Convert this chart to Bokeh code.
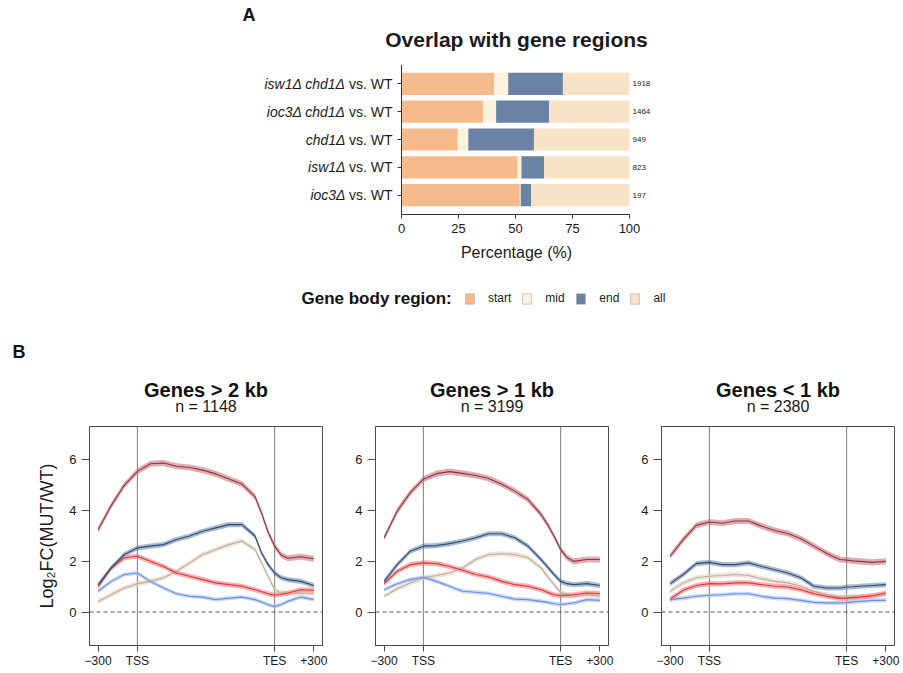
from bokeh.plotting import figure
from bokeh.models import (FactorRange, Range1d, FixedTicker, Legend, LegendItem,
                          Title, Span, ColumnDataSource, Label)
from bokeh.layouts import column, row
from bokeh.embed import file_html
from bokeh.resources import INLINE
from bokeh.core.properties import value

FONT = "Liberation Sans"

# ---------------- Panel A data ----------------
strains = ["isw1Δ chd1Δ", "ioc3Δ chd1Δ", "chd1Δ", "isw1Δ", "ioc3Δ"]
regions = ["start", "mid", "end", "all"]
pct_start = [40.7, 35.8, 24.7, 50.9, 51.9]
pct_mid = [6.1, 5.7, 4.6, 1.7, 0.4]
pct_end = [24.0, 23.3, 28.8, 9.9, 4.6]
pct_all = [29.2, 35.2, 41.9, 37.5, 43.1]
n_regions = [1918, 1464, 949, 823, 197]
pct_ticks = [0, 25, 50, 75, 100]
region_colors = ["#F5BB8C", "#FCF2DD", "#6A83A4", "#F9E3C7"]

# ---------------- Panel B data ----------------
profile_x = [-300, -200, -100, 0, 100, 200, 300, 400, 500, 600, 700, 800,
             900, 950, 1000, 1050, 1100, 1150, 1250, 1350]
tick_pos = [-300, 0, 1050, 1350]
tick_labels = ["\u2212300", "TSS", "TES", "+300"]
y_ticks = [0, 2, 4, 6]

series_names = ["isw1Δ chd1Δ", "ioc3Δ chd1Δ", "chd1Δ", "isw1Δ", "ioc3Δ"]
series_se = [0.12, 0.10, 0.10, 0.10, 0.08]

gt2kb_isw1_chd1 = [3.25, 4.2, 5.0, 5.55, 5.85, 5.88, 5.75, 5.7, 5.6, 5.45, 5.25, 5.05, 4.55, 3.9, 3.15, 2.6, 2.25, 2.12, 2.18, 2.1]
gt2kb_ioc3_chd1 = [1.08, 1.74, 2.27, 2.53, 2.6, 2.66, 2.86, 3.0, 3.19, 3.32, 3.45, 3.45, 3.0, 2.33, 1.87, 1.54, 1.35, 1.28, 1.21, 1.05]
gt2kb_chd1 = [0.42, 0.68, 0.95, 1.12, 1.21, 1.35, 1.61, 1.94, 2.27, 2.47, 2.66, 2.8, 2.47, 1.94, 1.41, 0.88, 0.75, 0.72, 0.75, 0.72]
gt2kb_isw1 = [1.01, 1.74, 2.14, 2.2, 2.0, 1.8, 1.54, 1.41, 1.28, 1.15, 1.08, 1.02, 0.88, 0.8, 0.72, 0.66, 0.7, 0.75, 0.88, 0.86]
gt2kb_ioc3 = [0.82, 1.21, 1.48, 1.54, 1.21, 0.95, 0.72, 0.62, 0.59, 0.49, 0.55, 0.59, 0.49, 0.4, 0.29, 0.22, 0.3, 0.42, 0.59, 0.49]

gt1kb_isw1_chd1 = [2.93, 3.98, 4.71, 5.24, 5.46, 5.54, 5.47, 5.39, 5.27, 5.04, 4.77, 4.44, 3.85, 3.45, 2.99, 2.47, 2.14, 2.0, 2.07, 2.07]
gt1kb_ioc3_chd1 = [1.21, 1.87, 2.4, 2.6, 2.62, 2.7, 2.8, 2.93, 3.09, 3.09, 2.93, 2.6, 2.07, 1.78, 1.48, 1.21, 1.12, 1.08, 1.12, 1.05]
gt1kb_chd1 = [0.62, 0.92, 1.15, 1.35, 1.44, 1.54, 1.74, 2.07, 2.27, 2.3, 2.27, 2.14, 1.74, 1.4, 1.08, 0.78, 0.68, 0.62, 0.68, 0.62]
gt1kb_isw1 = [1.12, 1.61, 1.87, 1.94, 1.91, 1.8, 1.65, 1.48, 1.38, 1.21, 1.08, 1.02, 0.88, 0.78, 0.68, 0.64, 0.66, 0.68, 0.75, 0.73]
gt1kb_ioc3 = [0.88, 1.12, 1.28, 1.37, 1.21, 1.02, 0.82, 0.78, 0.73, 0.62, 0.51, 0.49, 0.42, 0.38, 0.33, 0.3, 0.33, 0.36, 0.49, 0.46]

lt1kb_isw1_chd1 = [2.2, 2.86, 3.42, 3.55, 3.5, 3.59, 3.59, 3.39, 3.22, 3.1, 2.89, 2.6, 2.31, 2.18, 2.07, 2.05, 2.02, 2.0, 1.96, 2.0]
lt1kb_ioc3_chd1 = [1.12, 1.48, 1.91, 1.96, 1.87, 1.87, 1.94, 1.8, 1.67, 1.54, 1.35, 1.02, 0.95, 0.95, 0.95, 0.99, 1.0, 1.02, 1.05, 1.08]
lt1kb_chd1 = [0.82, 1.15, 1.35, 1.41, 1.44, 1.48, 1.44, 1.31, 1.21, 1.15, 1.02, 0.82, 0.68, 0.62, 0.59, 0.59, 0.6, 0.6, 0.64, 0.68]
lt1kb_isw1 = [0.51, 0.86, 1.05, 1.12, 1.11, 1.15, 1.15, 1.08, 1.02, 0.99, 0.88, 0.72, 0.62, 0.58, 0.54, 0.55, 0.57, 0.59, 0.64, 0.75]
lt1kb_ioc3 = [0.49, 0.55, 0.62, 0.66, 0.68, 0.72, 0.72, 0.62, 0.55, 0.53, 0.46, 0.38, 0.36, 0.36, 0.36, 0.37, 0.4, 0.42, 0.46, 0.46]

panel_titles = ["Genes > 2 kb", "Genes > 1 kb", "Genes < 1 kb"]
panel_n = [1148, 3199, 2380]
panel_series = [
    [gt2kb_isw1_chd1, gt2kb_ioc3_chd1, gt2kb_chd1, gt2kb_isw1, gt2kb_ioc3],
    [gt1kb_isw1_chd1, gt1kb_ioc3_chd1, gt1kb_chd1, gt1kb_isw1, gt1kb_ioc3],
    [lt1kb_isw1_chd1, lt1kb_ioc3_chd1, lt1kb_chd1, lt1kb_isw1, lt1kb_ioc3],
]
line_colors = ["#93333D", "#2E4B6E", "#C2AB96", "#E0363C", "#6C8FE0"]
band_colors = ["#C9777D", "#6F8DB3", "#E3D3C4", "#F27E80", "#A8C0F3"]
draw_order = [2, 4, 3, 1, 0]

# ---------------- Panel A figure ----------------
W = 903
A_H = 272
ZERO_X = 401.0          # page x of 0 %
PX_PER_PCT = 2.28
A_FL, A_FR = 238, 794   # frame left / right (page px)
A_TOP = 64
A_FH = 150
LAB_FS = 14             # y label font size (px)
VS_W = 47               # width of " vs. WT" at LAB_FS

x_rng = ((A_FL - ZERO_X) / PX_PER_PCT, (A_FR - ZERO_X) / PX_PER_PCT)


def strain_range():
    return FactorRange(factors=list(reversed(strains)), range_padding=0.2,
                       range_padding_units="absolute")


pa = figure(width=W, height=A_H, output_backend="svg", toolbar_location=None,
            title=None, x_range=Range1d(*x_rng), y_range=strain_range(),
            min_border_left=A_FL, min_border_right=W - A_FR,
            min_border_top=A_TOP, min_border_bottom=A_H - A_TOP - A_FH)
pa.grid.visible = False
pa.outline_line_color = None
pa.background_fill_color = None
pa.border_fill_color = None

totals = [a + b + c + d for a, b, c, d in zip(pct_start, pct_mid, pct_end, pct_all)]
src = ColumnDataSource(dict(strain=strains, start=pct_start, mid=pct_mid, end=pct_end,
                            all=pct_all, total=totals, n=[str(v) for v in n_regions]))
bars = pa.hbar_stack(regions, y="strain", height=0.8, source=src,
                     fill_color=region_colors, line_color=None)

# normal " vs. WT" part of the y labels (the italic genotype is the axis label)
pa.text(x=0, y="strain", text=value("vs. WT"), source=src, x_offset=-9,
        text_align="right", text_baseline="middle", text_font=value(FONT),
        text_font_size="%dpx" % LAB_FS, text_color="#1a1a1a")
pa.text(x="total", y="strain", text="n", source=src, x_offset=3,
        text_align="left", text_baseline="middle", text_font=value(FONT),
        text_font_size="8px", text_color="#1a1a1a")

pa.xaxis.ticker = FixedTicker(ticks=pct_ticks)
pa.xaxis.bounds = (0, 100)
pa.xaxis.axis_label = "Percentage (%)"
pa.xaxis.axis_label_text_font = FONT
pa.xaxis.axis_label_text_font_style = "normal"
pa.xaxis.axis_label_text_font_size = "16px"
pa.xaxis.axis_label_text_color = "#1a1a1a"
pa.xaxis.axis_label_standoff = 8
pa.xaxis.major_label_text_font = FONT
pa.xaxis.major_label_text_font_size = "13px"
pa.xaxis.major_label_text_color = "#1a1a1a"
pa.xaxis.major_label_standoff = 5
pa.xaxis.major_tick_out = 4
pa.xaxis.major_tick_in = 0
pa.xaxis.minor_tick_line_color = None
pa.xaxis.axis_line_color = "#333333"
pa.xaxis.major_tick_line_color = "#333333"

pa.yaxis.fixed_location = 0
pa.yaxis.major_label_text_font = FONT
pa.yaxis.major_label_text_font_style = "italic"
pa.yaxis.major_label_text_font_size = "%dpx" % LAB_FS
pa.yaxis.major_label_text_color = "#1a1a1a"
pa.yaxis.major_label_standoff = 5 + VS_W
pa.yaxis.major_tick_out = 4
pa.yaxis.major_tick_in = 0
pa.yaxis.axis_line_color = "#333333"
pa.yaxis.major_tick_line_color = "#333333"

pa.add_layout(Title(text="Overlap with gene regions", align="center",
                    text_font=FONT, text_font_size="21px", text_font_style="bold",
                    text_color="#1a1a1a", standoff=27), "above")
pa.add_layout(Title(text="A", align="left", offset=4, text_font=FONT,
                    text_font_size="18px", text_font_style="bold",
                    text_color="#111111", standoff=-24), "above")

# ---------------- legend strip (+ panel label B) ----------------
L_H = 93
L_BOT = 29
pl = figure(width=W, height=L_H, output_backend="svg", toolbar_location=None,
            title=None, x_range=Range1d(*x_rng), y_range=strain_range(),
            min_border_left=A_FL, min_border_right=W - A_FR,
            min_border_top=0, min_border_bottom=L_BOT)
pl.axis.visible = False
pl.grid.visible = False
pl.outline_line_color = None
pl.background_fill_color = None
pl.border_fill_color = None
keys = pl.hbar_stack(regions, y="strain", height=0.8, source=src,
                     fill_color=region_colors, line_color="#8a8a8a",
                     line_alpha=0.7, line_width=0.6, visible=False)
legend = Legend(items=[LegendItem(label=r, renderers=[keys[i]])
                       for i, r in enumerate(regions)],
                orientation="horizontal", location=(464 - A_FL, 31),
                label_text_font=FONT, label_text_font_size="12px",
                label_text_color="#1a1a1a", label_standoff=13,
                glyph_width=11, glyph_height=13, spacing=10, padding=0, margin=0,
                border_line_color=None, background_fill_alpha=0,
                inactive_fill_alpha=0)
pl.add_layout(legend, "center")
pl.add_layout(Label(x=301 - A_FL, y=38, x_units="screen", y_units="screen",
                    text="Gene body region:", text_font=FONT, text_font_size="17px",
                    text_font_style="bold", text_color="#111111",
                    text_align="left", text_baseline="middle"))
pl.add_layout(Title(text="B", align="left", offset=12 - A_FL, text_font=FONT,
                    text_font_size="18px", text_font_style="bold",
                    text_color="#111111", standoff=6), "below")

# ---------------- Panel B figures ----------------
B_H = 307
B_TOP, B_FH = 61, 219
x_pad = 0.04 * (tick_pos[-1] - tick_pos[0])
y_lo, y_hi = -1, 7
y_pad = 0.04 * (y_hi - y_lo)
geom = [(349, 89, 27), (286, 26, 27), (268, 26, 9)]

figs = []
for k in range(3):
    w, bl, br = geom[k]
    p = figure(width=w, height=B_H, output_backend="svg", toolbar_location=None,
               title=None,
               x_range=Range1d(tick_pos[0] - x_pad, tick_pos[-1] + x_pad),
               y_range=Range1d(y_lo - y_pad, y_hi + y_pad),
               min_border_left=bl, min_border_right=br,
               min_border_top=B_TOP, min_border_bottom=B_H - B_TOP - B_FH)
    p.grid.visible = False
    p.outline_line_color = "#4a4a4a"
    p.outline_line_width = 1
    p.background_fill_color = None
    p.border_fill_color = None

    for loc in tick_pos[1:3]:
        p.add_layout(Span(location=loc, dimension="height", line_color="#6e6e6e",
                          line_width=0.9, level="underlay"))
    p.add_layout(Span(location=0, dimension="width", line_color="#555555",
                      line_width=1, line_dash="4 3", level="underlay"))

    for i in draw_order:
        ys = panel_series[k][i]
        se = series_se[i]
        p.varea(x=profile_x, y1=[v - se for v in ys], y2=[v + se for v in ys],
                fill_color=band_colors[i], fill_alpha=0.6)
    for i in draw_order:
        p.line(x=profile_x, y=panel_series[k][i], line_color=line_colors[i],
               line_width=1.1)

    p.xaxis.ticker = FixedTicker(ticks=tick_pos)
    p.xaxis.major_label_overrides = dict(zip(tick_pos, tick_labels))
    p.yaxis.ticker = FixedTicker(ticks=y_ticks)
    for ax in (p.xaxis, p.yaxis):
        ax.major_label_text_font = FONT
        ax.major_label_text_color = "#1a1a1a"
        ax.major_tick_in = 0
        ax.minor_tick_line_color = None
        ax.axis_line_color = "#4a4a4a"
        ax.major_tick_line_color = "#4a4a4a"
    p.xaxis.major_label_text_font_size = "12px"
    p.xaxis.major_tick_out = 6
    p.xaxis.major_label_standoff = 2
    p.yaxis.major_label_text_font_size = "13px"
    p.yaxis.major_tick_out = 8
    p.yaxis.major_label_standoff = 5
    if k == 0:
        p.yaxis.axis_label = "Log\u2082FC(MUT/WT)"
        p.yaxis.axis_label_text_font = FONT
        p.yaxis.axis_label_text_font_size = "18px"
        p.yaxis.axis_label_text_font_style = "normal"
        p.yaxis.axis_label_text_color = "#1a1a1a"
        p.yaxis.axis_label_standoff = 9

    p.add_layout(Title(text="n = %d" % panel_n[k], align="center", text_font=FONT,
                       text_font_size="16px", text_font_style="normal",
                       text_color="#1a1a1a", standoff=24), "above")
    p.add_layout(Title(text=panel_titles[k], align="center", text_font=FONT,
                       text_font_size="20px", text_font_style="bold",
                       text_color="#111111", standoff=-34), "above")
    figs.append(p)

layout = column(pa, pl, row(*figs))
open("out.html", "w").write(file_html(layout, INLINE))
